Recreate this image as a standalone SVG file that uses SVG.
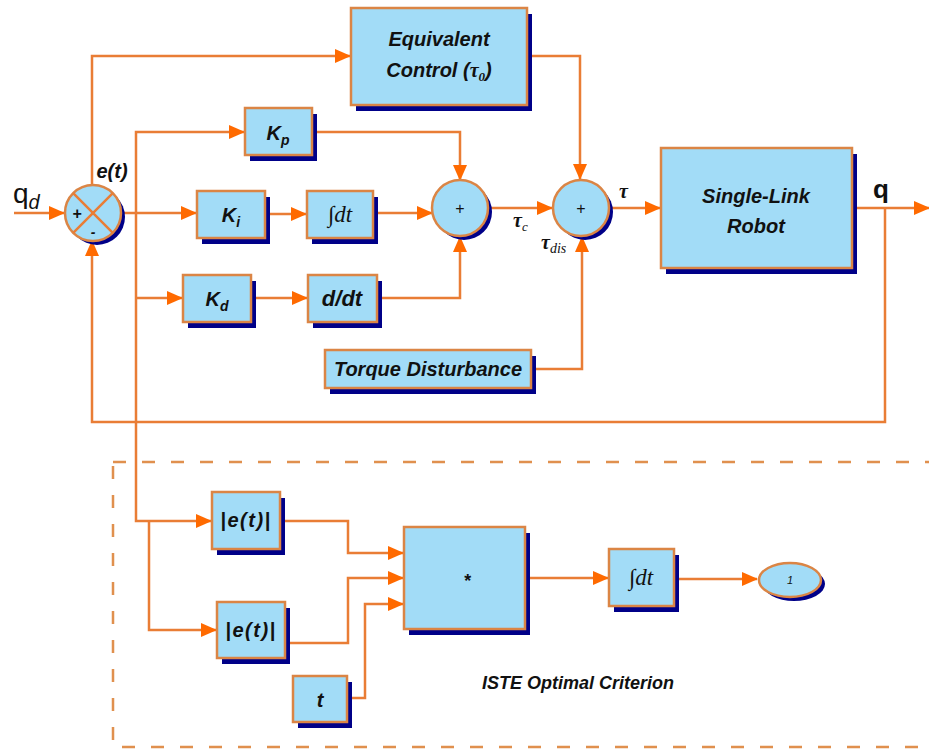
<svg xmlns="http://www.w3.org/2000/svg" width="929" height="749" viewBox="0 0 929 749">
<defs>
<style>
.blk{fill:#A2DCF7;stroke:#DB8545;stroke-width:2.5}
.shd{fill:#000088}
.ln{fill:none;stroke:#E97D35;stroke-width:2.5}
.arr{marker-end:url(#ah)}
.t{font-family:"Liberation Sans",Arial,sans-serif;font-weight:bold;font-style:italic;fill:#111;text-anchor:middle}
.s{font-family:"Liberation Serif","Times New Roman",serif;font-style:italic;fill:#111}
.dash{fill:none;stroke:#E0904E;stroke-width:2.5;stroke-dasharray:13 16}
</style>
<marker id="ah" markerWidth="16" markerHeight="14" refX="15" refY="7" orient="auto" markerUnits="userSpaceOnUse">
<path d="M0,0 L16,7 L0,14 z" fill="#FF6A00"/>
</marker>
</defs>
<rect width="929" height="749" fill="#fff"/>

<rect id="iste-frame" class="dash" x="113" y="462" width="840" height="285"/>

<g id="connectors">
<path class="ln arr" d="M14 213 H64"/>
<path class="ln arr" d="M92 185 V56 H350"/>
<path class="ln arr" d="M527 56 H580 V179"/>
<path class="ln arr" d="M121 213 H196"/>
<path class="ln arr" d="M136 213 V132 H244"/>
<path class="ln arr" d="M136 298 H182"/>
<path class="ln arr" d="M136 213 V521 H211"/>
<path class="ln arr" d="M149 521 V630 H216"/>
<path class="ln arr" d="M265 214 H306"/>
<path class="ln arr" d="M373 213 H432"/>
<path class="ln arr" d="M312 132 H460 V180"/>
<path class="ln arr" d="M251 298 H307"/>
<path class="ln arr" d="M377 298 H460 V237"/>
<path class="ln arr" d="M488 208 H552"/>
<path class="ln arr" d="M609 208 H660"/>
<path class="ln arr" d="M531 369 H582 V237"/>
<path class="ln arr" d="M852 208 H929"/>
<path class="ln arr" d="M885 208 V422 H92 V241"/>
<path class="ln arr" d="M280 521 H348 V553 H403"/>
<path class="ln arr" d="M285 643 H348 V578 H403"/>
<path class="ln arr" d="M347 698 H365 V604 H403"/>
<path class="ln arr" d="M525 578 H608"/>
<path class="ln arr" d="M674 579 H757"/>
</g>

<g id="sum-error">
<circle class="shd" cx="97" cy="217" r="28"/>
<circle class="blk" cx="93" cy="213" r="28"/>
<path class="ln" d="M73.2 193.2 L112.8 232.8 M112.8 193.2 L73.2 232.8"/>
<text x="77" y="219" class="t" style="font-size:16px">+</text>
<text x="93" y="237" class="t" style="font-size:14px">-</text>
</g>

<g id="equivalent-control">
<rect class="shd" x="356" y="14" width="176" height="97"/>
<rect class="blk" x="351" y="8" width="176" height="97"/>
<text x="439" y="46" class="t" style="font-size:20px">Equivalent</text>
<text x="439" y="77" class="t" style="font-size:20px">Control (<tspan class="s" style="font-weight:bold">τ</tspan><tspan class="s" style="font-size:13px" dy="4">0</tspan><tspan dy="-4">)</tspan></text>
</g>

<g id="kp">
<rect class="shd" x="250" y="114" width="67" height="47"/>
<rect class="blk" x="245" y="108" width="67" height="47"/>
<text x="278" y="140" class="t" style="font-size:20px">K<tspan style="font-size:14px" dy="5">p</tspan></text>
</g>

<g id="ki">
<rect class="shd" x="202" y="197" width="68" height="47"/>
<rect class="blk" x="197" y="191" width="68" height="47"/>
<text x="231" y="222" class="t" style="font-size:20px">K<tspan style="font-size:14px" dy="5">i</tspan></text>
</g>

<g id="integral1">
<rect class="shd" x="312" y="197" width="66" height="47"/>
<rect class="blk" x="307" y="191" width="66" height="47"/>
<text x="340" y="222" class="s" style="font-size:23px;text-anchor:middle">∫dt</text>
</g>

<g id="kd">
<rect class="shd" x="188" y="281" width="68" height="47"/>
<rect class="blk" x="183" y="275" width="68" height="47"/>
<text x="217" y="306" class="t" style="font-size:20px">K<tspan style="font-size:14px" dy="5">d</tspan></text>
</g>

<g id="derivative">
<rect class="shd" x="313" y="281" width="69" height="47"/>
<rect class="blk" x="308" y="275" width="69" height="47"/>
<text x="342" y="306" class="t" style="font-size:22px">d/dt</text>
</g>

<g id="sum-controller">
<circle class="shd" cx="464" cy="212" r="28"/>
<circle class="blk" cx="460" cy="208" r="28"/>
<text x="460" y="214" style="font-family:'Liberation Sans',Arial,sans-serif;font-size:16px;fill:#111;text-anchor:middle">+</text>
</g>

<g id="sum-torque">
<circle class="shd" cx="585" cy="212" r="28"/>
<circle class="blk" cx="581" cy="208" r="28"/>
<text x="581" y="214" style="font-family:'Liberation Sans',Arial,sans-serif;font-size:16px;fill:#111;text-anchor:middle">+</text>
</g>

<g id="torque-disturbance">
<rect class="shd" x="330" y="356" width="206" height="38"/>
<rect class="blk" x="325" y="350" width="206" height="38"/>
<text x="428" y="376" class="t" style="font-size:20px">Torque Disturbance</text>
</g>

<g id="robot">
<rect class="shd" x="666" y="154" width="191" height="120"/>
<rect class="blk" x="661" y="148" width="191" height="120"/>
<text x="756" y="203" class="t" style="font-size:20px">Single-Link</text>
<text x="756" y="233" class="t" style="font-size:20px">Robot</text>
</g>

<g id="abs1">
<rect class="shd" x="217" y="498" width="68" height="57"/>
<rect class="blk" x="212" y="492" width="68" height="57"/>
<text x="246" y="527" class="t" style="font-size:20px;letter-spacing:1.5px">|e(t)|</text>
</g>

<g id="abs2">
<rect class="shd" x="222" y="608" width="68" height="56"/>
<rect class="blk" x="217" y="602" width="68" height="56"/>
<text x="251" y="637" class="t" style="font-size:20px;letter-spacing:1.5px">|e(t)|</text>
</g>

<g id="time">
<rect class="shd" x="298" y="682" width="54" height="46"/>
<rect class="blk" x="293" y="676" width="54" height="46"/>
<text x="320" y="707" class="t" style="font-size:20px">t</text>
</g>

<g id="product">
<rect class="shd" x="409" y="533" width="121" height="102"/>
<rect class="blk" x="404" y="527" width="121" height="102"/>
<text x="467" y="587" class="t" style="font-size:18px">*</text>
</g>

<g id="integral2">
<rect class="shd" x="614" y="555" width="65" height="57"/>
<rect class="blk" x="609" y="549" width="65" height="57"/>
<text x="641" y="585" class="s" style="font-size:23px;text-anchor:middle">∫dt</text>
</g>

<g id="out1">
<ellipse class="shd" cx="794" cy="584" rx="31" ry="17"/>
<ellipse class="blk" cx="790" cy="580" rx="31" ry="17"/>
<text x="790" y="584" class="t" style="font-size:11px;font-weight:normal">1</text>
</g>

<g id="labels">
<text x="13" y="203" style="font-family:'Liberation Sans',Arial,sans-serif;font-size:28px;fill:#111">q<tspan style="font-size:20px;font-style:italic" dy="6">d</tspan></text>
<text x="112" y="178" class="t" style="font-size:20px">e(t)</text>
<text x="513" y="227" class="s" style="font-size:20px;font-weight:bold">τ<tspan style="font-size:13px;font-weight:normal" dy="4">c</tspan></text>
<text x="619" y="198" class="s" style="font-size:20px;font-weight:bold">τ</text>
<text x="541" y="249" class="s" style="font-size:20px;font-weight:bold">τ<tspan style="font-size:14px;font-weight:normal" dy="4">dis</tspan></text>
<text x="881" y="198" class="t" style="font-size:26px;font-style:normal">q</text>
<text x="578" y="689" class="t" style="font-size:18px">ISTE Optimal Criterion</text>
</g>
</svg>
